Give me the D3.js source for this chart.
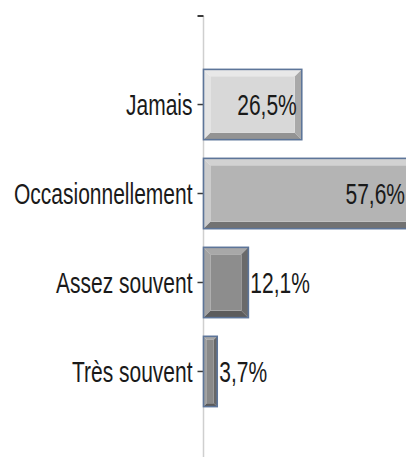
<!DOCTYPE html>
<html>
<head>
<meta charset="utf-8">
<script src="https://cdn.jsdelivr.net/npm/d3@7/dist/d3.min.js"></script>
<style>
  html, body { margin: 0; padding: 0; background: #fff; }
  svg { display: block; }
  text { font-family: "Liberation Sans", Arial, sans-serif; fill: #1a1a1a; }
</style>
</head>
<body>
<svg id="chart" width="406" height="457"></svg>
<script>
// Fréquence déclarée
const categories = ["Jamais", "Occasionnellement", "Assez souvent", "Très souvent"];
const values = [26.5, 57.6, 12.1, 3.7];
const valueLabels = ["26,5%", "57,6%", "12,1%", "3,7%"];

// Bevel shades per bar: face, top, left, bottom, right
const shades = [
  { face: "#d8d8d8", top: "#e8e8e8", left: "#e4e4e4", bottom: "#939393", right: "#a9a9a9" },
  { face: "#b4b4b4", top: "#d2d2d2", left: "#cccccc", bottom: "#727272", right: "#8a8a8a" },
  { face: "#8d8d8d", top: "#a8a8a8", left: "#a2a2a2", bottom: "#5c5c5c", right: "#6a6a6a" },
  { face: "#898989", top: "#a6a6a6", left: "#a0a0a0", bottom: "#5a5a5a", right: "#676767" }
];

const W = 406, H = 457;
const svg = d3.select("#chart");

const x = d3.scaleLinear().domain([0, 60]).range([203.5, 426]);
const y = d3.scaleBand().domain(categories).range([16, 460])
  .paddingInner(0.21).paddingOuter(0.6);

const fontSize = 21, stretch = 1.4;

const data = categories.map((c, i) => ({ c, v: values[i], label: valueLabels[i], s: shades[i] }));

svg.append("defs").append("clipPath").attr("id", "plot")
  .append("rect").attr("x", 0).attr("y", 0).attr("width", W).attr("height", H);

// Axis line
svg.append("line")
  .attr("x1", x(0)).attr("x2", x(0))
  .attr("y1", y.range()[0]).attr("y2", y.range()[1])
  .attr("stroke", "#cfcfcf").attr("stroke-width", 1.5);

// Top end tick
svg.append("line")
  .attr("x1", x(0) - 6).attr("x2", x(0))
  .attr("y1", y.range()[0]).attr("y2", y.range()[0])
  .attr("stroke", "#3a3a3a").attr("stroke-width", 2);

// Category ticks and labels
const axis = d3.axisLeft(y).tickSize(6).tickSizeOuter(0).tickPadding(5);
const gAxis = svg.append("g").attr("transform", `translate(${x(0)},0)`).call(axis);
gAxis.select(".domain").remove();
gAxis.selectAll(".tick line").attr("stroke", "#3a3a3a").attr("stroke-width", 1.5);
gAxis.selectAll(".tick text")
  .attr("font-size", fontSize)
  .attr("fill", "#1a1a1a")
  .attr("dy", null)
  .attr("y", 0)
  .attr("dominant-baseline", "central")
  .attr("transform", `scale(1,${stretch})`);

// Bevelled bars
const bars = svg.append("g").attr("clip-path", "url(#plot)")
  .selectAll("g.bar").data(data).join("g").attr("class", "bar");

bars.each(function (d) {
  const g = d3.select(this);
  const x0 = x(0), x1 = x(d.v), y0 = y(d.c), y1 = y0 + y.bandwidth();
  const b = Math.min(7, (x1 - x0) / 4);
  const ix0 = x0 + b, ix1 = x1 - b, iy0 = y0 + b, iy1 = y1 - b;
  const poly = pts => pts.map(p => p.join(",")).join(" ");
  g.append("polygon").attr("points", poly([[x0, y0], [x1, y0], [ix1, iy0], [ix0, iy0]])).attr("fill", d.s.top);
  g.append("polygon").attr("points", poly([[x0, y0], [ix0, iy0], [ix0, iy1], [x0, y1]])).attr("fill", d.s.left);
  g.append("polygon").attr("points", poly([[x1, y0], [x1, y1], [ix1, iy1], [ix1, iy0]])).attr("fill", d.s.right);
  g.append("polygon").attr("points", poly([[x0, y1], [ix0, iy1], [ix1, iy1], [x1, y1]])).attr("fill", d.s.bottom);
  g.append("rect").attr("x", ix0).attr("y", iy0).attr("width", ix1 - ix0).attr("height", iy1 - iy0).attr("fill", d.s.face);
  g.append("rect").attr("x", x0).attr("y", y0).attr("width", x1 - x0).attr("height", y1 - y0)
    .attr("fill", "none").attr("stroke", "#5d7599").attr("stroke-width", 1.6);
});

// Value labels: inside the bar when it is wide enough, otherwise just past its end
svg.append("g").selectAll("text").data(data).join("text")
  .attr("font-size", fontSize)
  .attr("dominant-baseline", "central")
  .attr("text-anchor", d => (x(d.v) - x(0) > 70 ? "end" : "start"))
  .attr("transform", d => {
    const inside = x(d.v) - x(0) > 70;
    const tx = inside ? (x(d.v) > W ? W - 1 : x(d.v) - 5) : x(d.v) + 2;
    const ty = y(d.c) + y.bandwidth() / 2;
    return `translate(${tx},${ty}) scale(1,${stretch})`;
  })
  .text(d => d.label);
</script>
</body>
</html>
